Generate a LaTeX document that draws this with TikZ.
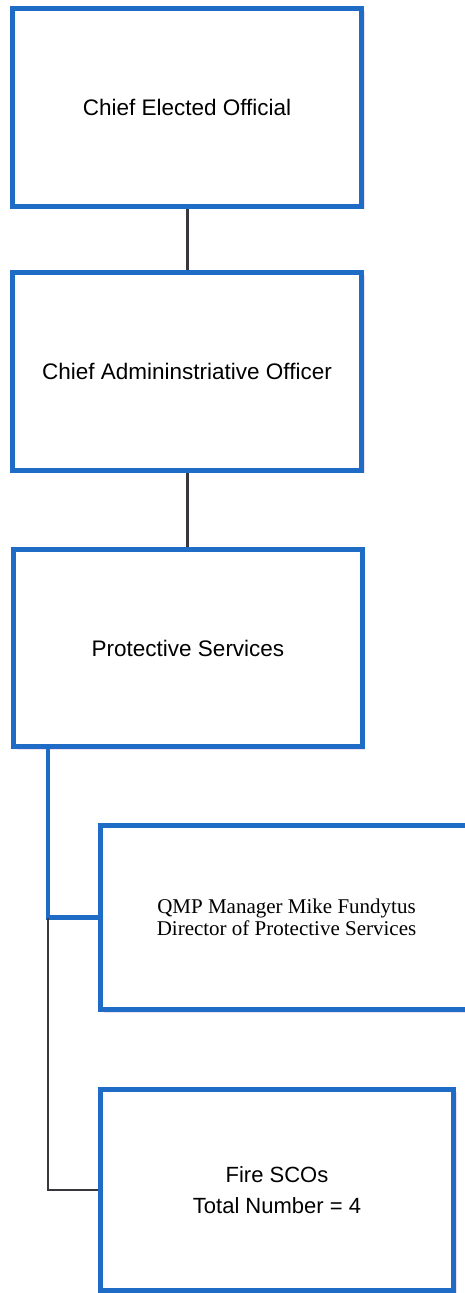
\documentclass[tikz,border=0pt]{standalone}
\usepackage{fontspec}
\setsansfont{Liberation Sans}
\newfontfamily\serifbox{Liberation Serif}
\usepackage{tikz}
\usetikzlibrary{shadows}

\definecolor{orgblue}{RGB}{30,108,198}
\definecolor{linkgray}{RGB}{55,55,60}

\begin{document}
\begin{tikzpicture}[x=1pt, y=-1pt,
    unit/.style={draw=orgblue, line width=5pt, fill=white, inner sep=0pt,
                 align=center, minimum width=349pt, minimum height=198pt,
                 font=\sffamily\fontsize{22.5}{27}\selectfont,
                 drop shadow={shadow xshift=3pt, shadow yshift=-3pt,
                              fill=violet!12, opacity=1}},
    link/.style={linkgray, line width=3pt},
    branch/.style={orgblue, line width=4.5pt},
    thin/.style={linkgray, line width=2pt}]
  \useasboundingbox[fill=white] (0,0) rectangle (464,1293);
  \node[unit] (ceo)  at (187,107)   {Chief Elected Official};
  \node[unit] (cao)  at (187,371)   {Chief Admininstriative Officer};
  \node[unit, minimum width=348.5pt, minimum height=197pt] (prot) at (188,648)
        {Protective Services};
  \node[unit, minimum width=372pt, minimum height=184pt,
        font=\serifbox\fontsize{21}{21.5}\selectfont] (qmp) at (286.5,917.5)
        {QMP Manager Mike Fundytus\\Director of Protective Services};
  \node[unit, minimum width=353pt, minimum height=201.5pt,
        font=\sffamily\fontsize{22}{31}\selectfont] (fire) at (277,1190)
        {Fire SCOs\\Total Number = 4};
  \coordinate (trunk) at (48,917.5);
  \draw[link] (ceo.south) -- (cao.north);
  \draw[link] (cao.south) -- (cao.south |- prot.north);
  \draw[branch] (prot.south -| trunk) -- (trunk) -- (qmp.west);
  \draw[thin] (trunk) -- (trunk |- fire.west) -- (fire.west);
\end{tikzpicture}
\end{document}
